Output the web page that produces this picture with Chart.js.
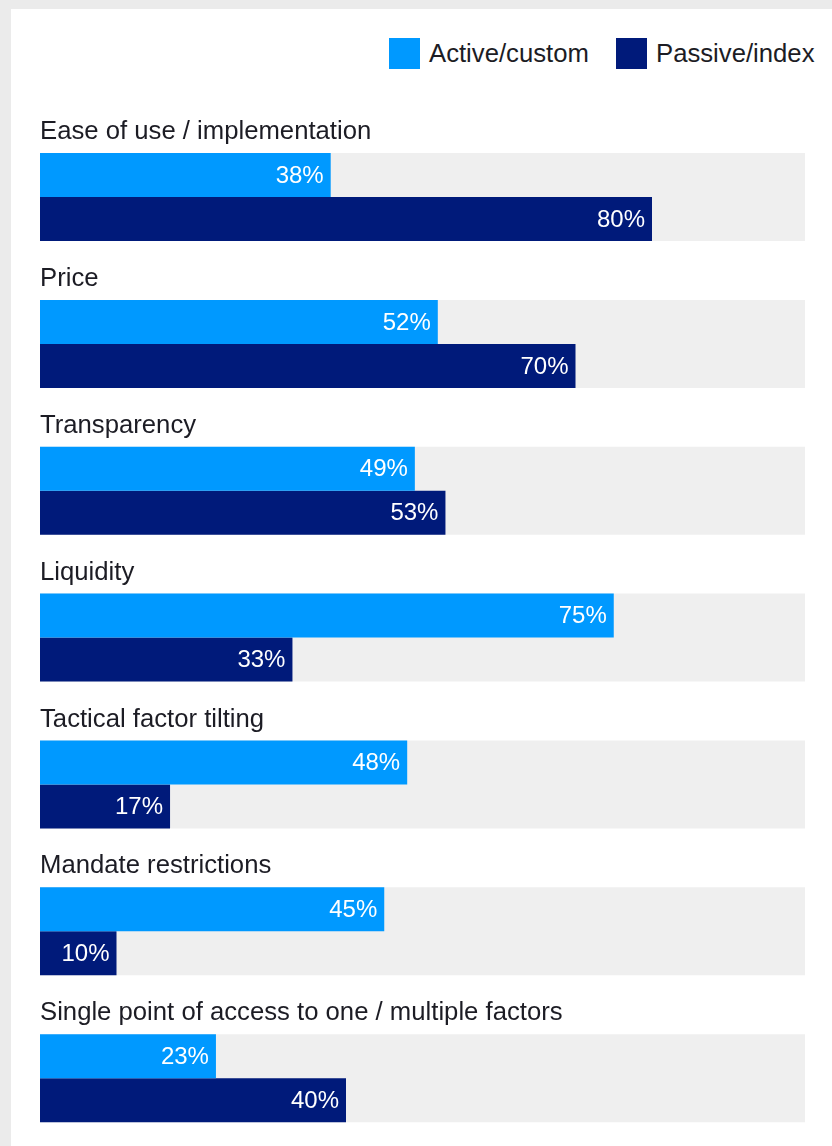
<!DOCTYPE html>
<html>
<head>
<meta charset="utf-8">
<script src="https://cdn.jsdelivr.net/npm/chart.js@4/dist/chart.umd.min.js"></script>
<style>
    html, body { margin: 0; padding: 0; overflow: hidden; }
    body { background: #ebebeb; width: 832px; height: 1146px; position: relative; font-family: "Liberation Sans", Arial, sans-serif; }
    .panel { position: absolute; left: 11px; top: 9px; width: 821px; height: 1137px; background: #fff; }
    .legend { position: absolute; top: 38px; left: 0; width: 832px; height: 31px; color: #1c1c24; font-size: 25.7px; line-height: 31px; }
    .legend .item { position: absolute; top: 0; display: flex; align-items: center; white-space: nowrap; }
    .legend .swatch { width: 31px; height: 31px; margin-right: 9px; }
    #chartWrap { position: absolute; left: 11px; top: 9px; width: 821px; height: 1158px; }
</style>
</head>
<body>
<div class="panel"></div>
<div class="legend" id="legend"></div>
<div id="chartWrap"><canvas id="reasonsChart" width="821" height="1158"></canvas></div>
<script>
const categories = [
    "Ease of use / implementation",
    "Price",
    "Transparency",
    "Liquidity",
    "Tactical factor tilting",
    "Mandate restrictions",
    "Single point of access to one / multiple factors"
];
const activeValues = [38, 52, 49, 75, 48, 45, 23];
const passiveValues = [80, 70, 53, 33, 17, 10, 40];
const trackValues = [100, 100, 100, 100, 100, 100, 100];
const seriesNames = ["Active/custom", "Passive/index"];

const ACTIVE_COLOR = "#0099ff";
const PASSIVE_COLOR = "#001a7a";
const TRACK_COLOR = "#efefef";
const FONT = "'Liberation Sans', Arial, sans-serif";

// html legend, top right
const legendEl = document.getElementById("legend");
const legendLeft = [389, 616];
[ACTIVE_COLOR, PASSIVE_COLOR].forEach(function (color, i) {
    const item = document.createElement("div");
    item.className = "item";
    item.style.left = legendLeft[i] + "px";
    item.innerHTML = `<span class="swatch" style="background:${color}"></span><span>${seriesNames[i]}</span>`;
    legendEl.appendChild(item);
});

// white percentage labels at the end of each bar
const valueLabels = {
    id: "valueLabels",
    afterDatasetsDraw(chart) {
        const ctx = chart.ctx;
        ctx.save();
        ctx.fillStyle = "#ffffff";
        ctx.font = `24px ${FONT}`;
        ctx.textAlign = "right";
        ctx.textBaseline = "middle";
        [0, 1].forEach(function (di) {
            const meta = chart.getDatasetMeta(di);
            meta.data.forEach(function (bar, i) {
                ctx.fillText(chart.data.datasets[di].data[i] + "%", bar.x - 7, bar.y + 1);
            });
        });
        ctx.restore();
    }
};

const chart = new Chart(document.getElementById("reasonsChart"), {
    type: "bar",
    data: {
        labels: categories,
        datasets: [
            {
                label: seriesNames[0],
                data: activeValues,
                backgroundColor: ACTIVE_COLOR,
                categoryPercentage: 0.5993,
                barPercentage: 1,
                order: 0
            },
            {
                label: seriesNames[1],
                data: passiveValues,
                backgroundColor: PASSIVE_COLOR,
                categoryPercentage: 0.5993,
                barPercentage: 1,
                order: 0
            },
            {
                label: "track",
                data: trackValues,
                backgroundColor: TRACK_COLOR,
                grouped: false,
                categoryPercentage: 0.5993,
                barPercentage: 1,
                order: 1
            }
        ]
    },
    options: {
        indexAxis: "y",
        responsive: false,
        animation: false,
        layout: { padding: { left: 21, right: 27, top: 114.6, bottom: 0 } },
        plugins: {
            legend: { display: false },
            tooltip: { enabled: false }
        },
        scales: {
            x: { min: 0, max: 100, display: false },
            y: {
                grid: { display: false },
                border: { display: false },
                ticks: {
                    mirror: true,
                    padding: 0,
                    labelOffset: -65,
                    color: "#1c1c24",
                    font: { family: FONT, size: 25.7 },
                    autoSkip: false
                }
            }
        }
    },
    plugins: [valueLabels]
});
</script>
</body>
</html>
